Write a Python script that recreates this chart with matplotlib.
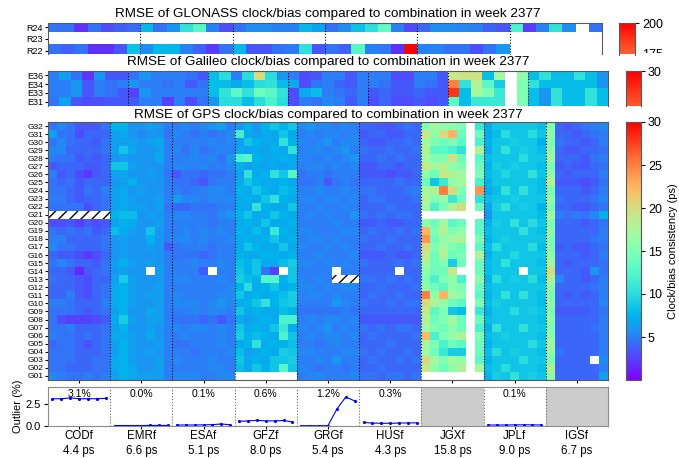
import numpy as np
import matplotlib
matplotlib.use('Agg')
import matplotlib.pyplot as plt
from matplotlib.patches import Rectangle
from matplotlib.colors import Normalize

plt.rcParams['font.family'] = ['Liberation Sans', 'DejaVu Sans']
nan = np.nan

# ---------------- data ----------------
acs = ['CODf', 'EMRf', 'ESAf', 'GFZf', 'GRGf', 'HUSf', 'JGXf', 'JPLf', 'IGSf']
ac_rms = ['4.4 ps', '6.6 ps', '5.1 ps', '8.0 ps', '5.4 ps', '4.3 ps', '15.8 ps', '9.0 ps', '6.7 ps']
outlier_pct = ['3.1%', '0.0%', '0.1%', '0.6%', '1.2%', '0.3%', None, '0.1%', None]

codf_out = [3.1, 3.1, 3.2, 3.1, 3.1, 3.1, 3.15]
emrf_out = [0.02, 0.02, 0.02, 0.02, 0.03, 0.03, 0.03]
esaf_out = [0.08, 0.08, 0.08, 0.1, 0.12, 0.2, 0.1]
gfzf_out = [0.5, 0.55, 0.62, 0.55, 0.55, 0.6, 0.42]
grgf_out = [0.0, 0.0, 0.0, 0.0, 1.92, 3.3, 2.85]
husf_out = [0.38, 0.3, 0.28, 0.28, 0.3, 0.32, 0.33]
jgxf_out = None
jplf_out = [0.08, 0.08, 0.08, 0.1, 0.1, 0.1, 0.08]
igsf_out = None

glo_sats = ['R24', 'R23', 'R22']
glo_acs_n = 6
glo_R24 = [30, 30, 13, 30, 20, 25, 28,
           52, 30, 40, 70, 85, 35, 20,
           30, 38, 38, 35, 35, 52, 45,
           30, 38, 55, 68, 88, 35, 18,
           28, 38, 38, 36, 35, 25, 22,
           80, 15, 35, 70, 38, nan, 30]
glo_R23 = [nan] * 42
glo_R22 = [30, 25, 30, 13, 13, 22, 55,
           38, 52, 52, 35, 25, 15, 30,
           52, 22, 22, 30, 32, 68, 22,
           30, 25, 85, 35, 32, 13, 200,
           35, 35, 30, 30, 20, 30, 40,
           nan, nan, nan, nan, nan, nan, nan]

gal_sats = ['E36', 'E34', 'E33', 'E31']
gal_acs_n = 7
gal_E36 = [5, 6.5, 4.5, 2, 6, 3.5, 3.5,
           4.5, 6, 5, 5, 5, 4.5, 3.5,
           8, 10, 5, 10, 20, 10, 6,
           5, 3, 3.5, 5, 5, 3.5, 5,
           5, 5, 3, 3, 5, 5, 3.5,
           19, 19.5, 19.5, 8, 17, nan, 16,
           8, 10.5, 8, 8, 10.5, 8, 6]
gal_E34 = [5, 5, 6, 3.5, 5, 4.5, 5,
           6, 5, 5, 4.5, 5, 3.5, 4.5,
           8, 8, 7, 8, 10, 10.5, 8,
           7, 3, 4.5, 5, 4, 3.5, 5,
           5, 4.5, 3.5, 3.5, 5, 4.5, 3.5,
           25, 10.5, 18, 13, 9, nan, 15,
           10.5, 8, 8, 8, 8, 8, 6]
gal_E33 = [5, 5, 6, 3.5, 5, 4.5, 3.5,
           2.5, 6, 5, 5, 5, 5, 5,
           8, 10.5, 13, 10.5, 14, 13, 10.5,
           3, 7, 8, 5, 4.5, 4, 5,
           3.5, 4, 3.5, 3.5, 4, 3.5, 3.5,
           28, 8, 17, 15, 11, nan, 15,
           8, 6, 10.5, 8, 8, 10.5, 8]
gal_E31 = [4.5, 6.5, 3.5, 3, 3, 3.5, 3.5,
           3.5, 5, 5, 2.5, 5, 3, 4.5,
           6, 10, 10, 8, 10, 12, 10,
           3, 5, 4.5, 5.5, 5, 3.5, 5,
           3, 4, 3, 3, 3.5, 3, 3.5,
           13, 8, 11, 11, 11, nan, 15,
           8, 6, 10.5, 8, 8, 10.5, 8]

gps_sats = ['G%02d' % i for i in range(32, 0, -1)]   # top to bottom

codf = [[4.5, 5.5, 4.5, 3.5, 3.5, 3.5, 4.5], [6.5, 4.5, 4.5, 3, 4, 4, 4], [4.5, 5.5, 4.5, 4, 4, 3.5, 4.5],
        [5.5, 5.5, 4, 4, 4, 4, 4.5], [5, 4.5, 4.5, 3.5, 4, 3.5, 4], [3.5, 4, 4, 4, 3.5, 3.5, 4],
        [5, 3.5, 4, 3, 2, 3.5, 4], [4.5, 4, 4.5, 3.5, 4, 4, 4], [4.5, 4.5, 4, 3.5, 4.5, 4, 5],
        [5, 5, 4, 3.5, 4, 4, 4.5], [4.5, 4.5, 4.5, 4.5, 3, 4, 4.5], [nan] * 7,
        [3, 3, 3.5, 2.5, 3.5, 3, 3.5], [4.5, 4, 4.5, 4, 4.5, 3.5, 4], [5, 5, 4, 4, 4, 4, 4.5],
        [5.5, 4.5, 4.5, 4, 4, 4, 4.5], [4, 3.5, 3.5, 3, 2, 3, 4], [4.5, 5.5, 4.5, 4, 4, 3.5, 4.5],
        [4, 4, 3.5, 1.5, 3.5, 4, 4.5], [4.5, 4, 4, 3.5, 3, 4, 4], [4, 4, 4, 3.5, 3, 4, 4.5],
        [4, 4, 5, 3.5, 3, 4, 4.5], [5, 5, 4.5, 4, 4, 4, 5], [4.5, 4.5, 4.5, 4, 3.5, 4, 4.5],
        [4.5, 3, 2.5, 2.5, 2.5, 3, 3.5], [4.5, 4.5, 5, 4, 4, 4, 4.5], [5, 4.5, 4.5, 4, 4.5, 4, 4.5],
        [4, 4.5, 4.5, 4, 3, 4, 4.5], [4.5, 4.5, 4.5, 4, 4, 4, 4.5], [4.5, 4.5, 4.5, 4, 4, 4.5, 4.5],
        [4.5, 4.5, 4, 4, 4, 4.5, 4.5], [5.5, 5, 4.5, 4.5, 5, 4.5, 5]]

emrf = [[7.5, 7.5, 6, 6, 6.5, 6, 5], [6.5, 7, 6, 5.5, 6, 6, 4.5], [6.5, 6.5, 6.5, 6, 6.5, 7, 5],
        [6.5, 8.5, 7, 6, 6, 6.5, 5], [6, 6.5, 6, 6, 6, 7, 5], [8.5, 8.5, 6.5, 6, 6, 6, 5],
        [6.5, 7, 6, 6, 6.5, 6, 4.5], [6, 6.5, 7.5, 6, 6, 6, 5], [6.5, 7, 6, 6.5, 6, 6, 5],
        [6.5, 7, 6.5, 6, 6, 6.5, 5], [6.5, 7, 6.5, 6.5, 6, 6.5, 4.5], [7.5, 8, 8, 6, 6.5, 6, 5],
        [6.5, 7.5, 7, 6, 6, 6.5, 5], [8, 7, 6.5, 6, 8.5, 6, 5], [6, 6.5, 6, 6, 7.5, 6, 5],
        [6, 6.5, 6, 6, 6.5, 6, 3.5], [6, 6.5, 6, 6, 6, 6, 5], [6.5, 7.5, 6.5, 6, 6.5, 6, 5],
        [6, 6.5, 6, 6, nan, 6.5, 5], [6.5, 9, 6.5, 6, 6, 6, 5], [7, 7.5, 6.5, 6, 6, 6.5, 5],
        [7, 7.5, 6.5, 6, 6.5, 6.5, 5], [7, 7.5, 6.5, 6, 6, 6.5, 5], [6.5, 7.5, 6, 6, 7, 6.5, 5],
        [7, 9, 6.5, 6, 6.5, 6.5, 5], [6.5, 7.5, 6, 6, 6.5, 6, 5], [7, 7, 6.5, 6, 7, 6, 5],
        [6.5, 7.5, 6.5, 6, 6, 6.5, 5], [6.5, 7.5, 6.5, 6, 6.5, 6, 5], [7, 7.5, 6.5, 6, 6, 6.5, 5],
        [7, 7.5, 7, 6, 6, 6.5, 5], [6.5, 7.5, 7, 6.5, 6.5, 6.5, 5]]

esaf = [[5, 5.5, 5, 5.5, 6, 6.5, 5], [5.5, 5, 4.5, 5, 4.5, 5, 5.5], [5, 5, 5, 5, 5.5, 5, 5.5],
        [5.5, 4.5, 5.5, 4.5, 5, 5.5, 5], [5, 5, 5.5, 5, 5.5, 4.5, 6], [5.5, 5.5, 5, 5.5, 5, 5, 5.5],
        [3.5, 4.5, 4.5, 4, 4.5, 4.5, 5], [4.5, 4.5, 4, 3.5, 4.5, 5, 5], [5, 4.5, 5, 5, 5.5, 5.5, 5],
        [6.5, 5.5, 5.5, 5, 5.5, 5.5, 5.5], [4, 4, 4.5, 4.5, 4.5, 5, 5], [5.5, 5.5, 5, 5, 4.5, 5.5, 6],
        [5, 5, 5, 5, 4.5, 5, 5], [5, 5.5, 5, 5.5, 5, 5.5, 5], [5.5, 5.5, 5, 5.5, 5, 5, 5.5],
        [4.5, 5, 5, 5, 4.5, 5, 5], [4.5, 4.5, 4.5, 4, 4.5, 5, 5], [5, 5, 5.5, 5, 5, 5.5, 5],
        [5, 5, 5, 3.5, nan, 5, 5], [5.5, 5.5, 5, 5, 5, 5.5, 5], [5, 5, 5, 5, 5, 5, 5.5],
        [5.5, 5, 5, 5, 5, 5.5, 5.5], [5.5, 5.5, 5.5, 5, 5.5, 6, 5.5], [5, 5, 5.5, 5, 5.5, 5.5, 5],
        [4.5, 4.5, 4.5, 4, 4.5, 3.5, 4.5], [5.5, 5, 5.5, 5.5, 5, 5.5, 5], [5, 5.5, 5, 5, 5, 5.5, 5],
        [4.5, 4.5, 5, 5, 5, 5.5, 5], [5, 5, 4.5, 5, 5, 5, 5.5], [5.5, 5, 5, 5, 5.5, 5, 5],
        [5, 5, 5, 5, 5.5, 5.5, 5], [5.5, 5.5, 5.5, 5, 5, 5.5, 5.5]]

gfzf = [[6, 7.5, 6, 7.5, 8.5, 7.5, 8.5], [11.5, 7, 6.5, 7, 7, 8.5, 7], [6.5, 8.5, 7.5, 7, 7, 10.5, 7.5],
        [7, 6.5, 7, 6.5, 7.5, 7, 10.5], [12, 12.5, 7.5, 7, 7, 7.5, 7], [7.5, 6.5, 7, 6.5, 7, 6.5, 7],
        [6.5, 10.5, 7, 7.5, 10.5, 8.5, 12.5], [7, 8.5, 7.5, 7, 7, 7.5, 7], [7.5, 7, 8.5, 7.5, 7, 8, 7.5],
        [7, 7.5, 7, 8.5, 10.5, 7.5, 7], [7, 7, 10.5, 7.5, 7, 7, 8.5], [7.5, 8.5, 7, 7, 8.5, 7.5, 7],
        [7, 7.5, 7, 8.5, 7, 7, 7.5], [7.5, 7, 8, 7, 11, 7.5, 7], [7, 7.5, 7, 7.5, 8.5, 7, 7.5],
        [7, 8.5, 7.5, 7, 7, 8.5, 7], [7.5, 7, 7, 7.5, 7.5, 7, 7.5], [8, 7.5, 8.5, 7, 7, 8, 9],
        [8.5, 7.5, 8.5, 4.5, 2.5, nan, 8.5], [9, 8, 7.5, 12.5, 12.5, 7.5, 8.5], [7.5, 10, 7, 7.5, 8.5, 7, 7.5],
        [8.5, 7, 7.5, 7, 7.5, 8, 9], [7, 7.5, 8.5, 10.5, 7.5, 8.5, 9], [8.5, 7, 7.5, 7, 7, 8, 7.5],
        [7, 6.5, 7, 7.5, 7, 12, 12], [8.5, 7, 7.5, 7, 8.5, 11, 7], [9, 7.5, 8, 7.5, 7, 12, 8.5],
        [7, 7.5, 10.5, 7, 7.5, 7.5, 8], [8, 6.5, 7, 7.5, 7, 9, 8.5], [8.5, 7, 7.5, 7, 8.5, 8.5, 9],
        [8, 7, 8.5, 7.5, 8.5, 12.5, 8.5], [nan] * 7]

grgf = [[5.5, 6, 5.5, 5.5, 5, 5.5, 5], [5, 5.5, 5, 5.5, 5.5, 5, 5.5], [5.5, 5, 5.5, 6, 5, 5.5, 5.5],
        [5, 5.5, 5.5, 5, 5.5, 6, 5], [5.5, 5, 5, 5.5, 5, 5.5, 6], [5, 5.5, 5.5, 5, 5.5, 5, 5.5],
        [4.5, 5, 5, 4.5, 5, 5, 5], [4.5, 4.5, 5, 3.5, 4.5, 5, 4.5], [5, 5, 5.5, 5, 5, 5.5, 5],
        [5.5, 5.5, 5, 5.5, 5.5, 5, 5.5], [5, 5, 5.5, 5, 5, 5.5, 5], [5, 5.5, 5, 5.5, 5, 5, 6],
        [5, 5, 5, 5, 5.5, 5, 5], [5.5, 5.5, 5, 5, 5, 5.5, 5.5], [5, 5.5, 5.5, 5, 5.5, 5, 5],
        [5.5, 5, 5, 5.5, 5, 5.5, 5], [5, 5, 5.5, 5, 5, 5, 5.5], [5.5, 5.5, 5, 5.5, 5, 5.5, 5],
        [5, 5, 5, 5, nan, 5, 5], [5.5, 5, 5.5, 5, nan, nan, nan], [5.5, 5.5, 5, 5.5, 5, 5.5, 5.5],
        [5, 5.5, 5.5, 5, 5.5, 5, 5], [5, 5, 5, 5, 6, 5.5, 5], [4.5, 4.5, 4.5, 4.5, 4.5, 5, 4.5],
        [5, 5.5, 5, 5.5, 5.5, 5, 5.5], [5.5, 5, 5.5, 6, 5, 5.5, 5], [5, 5.5, 5, 5.5, 5.5, 5, 5.5],
        [5, 5, 4.5, 5, 5.5, 5, 5], [5.5, 5.5, 5, 5, 5, 5.5, 5.5], [5, 5, 5.5, 5, 6, 5, 5],
        [5.5, 5, 4.5, 5, 5, 4.5, 5], [5, 5.5, 5.5, 5, 5, 5, 5.5]]

husf = [[4, 4, 3.5, 3.5, 4, 4.5, 4], [3.5, 4, 4, 3.5, 3.5, 4, 4], [4, 3.5, 3.5, 4, 4, 4.5, 4],
        [4.5, 4, 4, 4.5, 4, 4, 4.5], [4, 4, 4.5, 4, 4.5, 4, 4], [3.5, 3.5, 4, 4, 3.5, 4, 4],
        [3.5, 3.5, 3.5, 3, 3.5, 3.5, 4], [4, 4, 4, 4, 4.5, 4, 4], [4.5, 4.5, 4, 4, 4, 4.5, 5],
        [4, 4.5, 4.5, 4, 4, 4, 4.5], [4, 4, 4, 4.5, 4, 4, 4], [4.5, 4, 4.5, 4, 4.5, 4.5, 4],
        [3.5, 3.5, 4, 3.5, 3.5, 4, 4], [4, 4.5, 4, 4, 4.5, 4, 4.5], [4.5, 4, 4, 4.5, 4, 4, 4],
        [4, 4, 4.5, 4, 4, 4.5, 4], [3.5, 3.5, 3.5, 4, 3.5, 3.5, 4], [4.5, 4, 4, 4, 4.5, 4, 4.5],
        [4, 4, 4, 4, nan, 4, 4], [4.5, 4.5, 4, 4.5, 4, 4.5, 4], [4, 4, 4.5, 4, 4, 4, 4.5],
        [4, 4.5, 4, 4, 4.5, 4, 4], [4.5, 4, 4, 4.5, 4, 4.5, 4.5], [4, 4, 4, 4, 4, 4, 4],
        [3.5, 3.5, 3.5, 3.5, 3.5, 3.5, 3.5], [4.5, 4, 4.5, 4, 4.5, 4.5, 4], [4, 4.5, 4, 4, 4, 4, 4.5],
        [4, 4, 4, 4.5, 4, 4, 4], [4.5, 4, 4.5, 4, 4, 4.5, 4], [4, 4.5, 4, 4, 4.5, 4, 4.5],
        [4, 4, 4.5, 4, 4, 4, 4], [4.5, 4.5, 4, 4.5, 4.5, 4, 4.5]]

jgxf = [[15, 17, 16, 16, 15, nan, 11], [19, 16, 20, 22.5, 14, nan, 14], [17, 15, 14, 15, 13, nan, 12],
        [18, 13, 13, 12, 10.5, nan, 18], [17, 15, 15, 19.5, 14, nan, 13], [19, 17, 18, 16, 15, nan, 14],
        [16, 14, 19, 18, 17, nan, 15], [14, 8.5, 11, 16, 17, nan, 12], [17, 18, 25, 20, 15, nan, 24],
        [18, 15, 16, 11, 14, nan, 10.5], [17, 12, 15, 18, 20, nan, 14], [nan] * 7,
        [16, 14, 17, 13, 14, nan, 13], [22.5, 15, 18, 15, 16, nan, 13], [24, 14, 16, 17, 18, nan, 15],
        [20, 15, 17, 15, 14, nan, 13], [19, 14, 18, 14, 15, nan, 18], [17, 14, 15, 9, 14, nan, 14],
        [16, 14, 14, 19, nan, nan, 14], [15, 12, 15, 16, 12, nan, 16], [16, 14, 13, 16, 15, nan, 14],
        [25, 16, 22.5, 17, 16, nan, 13], [20, 18, 16, 14, 13, nan, 15], [19, 13, 15, 8.5, 8, nan, 11],
        [18, 14, 15, 17, 14, nan, 14], [17, 15, 14, 16, 14, nan, 12], [22, 12, 15, 16, 18, nan, 15],
        [17, 15, 12, 14, 13, nan, 14], [17, 14, 11, 9, 9, nan, 14], [20, 17, 15, 17, 16, nan, 13],
        [19, 16, 14, 16, 18, nan, 17], [nan] * 7]

jplf = [[7, 8.5, 8.5, 8.5, 8.5, 8.5, 8], [7, 8, 10, 8.5, 8.5, 10, 8.5], [7.5, 8.5, 8.5, 9, 8.5, 8.5, 7.5],
        [7, 8.5, 10.5, 8.5, 9, 8.5, 8], [8, 8.5, 8.5, 8.5, 10, 8.5, 8.5], [7.5, 9, 8.5, 9, 8.5, 8.5, 8],
        [8, 8.5, 9.5, 8.5, 8.5, 10.5, 8.5], [7.5, 8.5, 8.5, 8.5, 8.5, 8.5, 8], [7, 8, 10.5, 8.5, 10.5, 8.5, 8],
        [8, 8.5, 8.5, 9, 8.5, 8.5, 8.5], [7, 9, 10.5, 8.5, 9, 8.5, 7.5], [6, 8.5, 8.5, 8.5, 8.5, 8.5, 8],
        [7.5, 9, 8.5, 10.5, 8.5, 10, 8.5], [8, 8.5, 8.5, 8.5, 10.5, 8.5, 8], [7.5, 8.5, 9, 8.5, 8.5, 8.5, 8.5],
        [8, 10, 8.5, 8.5, 8.5, 10, 8], [7.5, 8.5, 8.5, 9.5, 8.5, 8.5, 8.5], [8, 8.5, 10.5, 8.5, 8.5, 8.5, 8],
        [8, 8.5, 8.5, 8.5, nan, 8.5, 8.5], [7.5, 10, 8.5, 9, 8.5, 10, 8], [8, 8.5, 8.5, 8.5, 8.5, 8.5, 8.5],
        [7.5, 8.5, 10.5, 8.5, 10.5, 8.5, 8], [8, 9, 8.5, 8.5, 8.5, 8.5, 8], [7.5, 8.5, 8.5, 10, 8.5, 9, 8.5],
        [8, 8.5, 8.5, 8.5, 8.5, 8.5, 8], [7.5, 10.5, 8.5, 8.5, 10.5, 8.5, 8.5], [8, 8.5, 9, 8.5, 8.5, 8.5, 8],
        [7.5, 8.5, 8.5, 8.5, 8.5, 10, 8.5], [8, 10, 8.5, 9, 8.5, 8.5, 8], [7.5, 8.5, 8.5, 8.5, 10, 8.5, 8.5],
        [8, 8.5, 10, 8.5, 8.5, 8.5, 8], [7.5, 9, 8.5, 10.5, 8.5, 9, 8.5]]

igsf = [[15, 4, 3.5, 4, 4.5, 5, 5.5], [16, 4, 4, 3.5, 4, 4.5, 5], [15, 4.5, 4, 4, 3.5, 4, 5],
        [16, 4, 3.5, 3.5, 4, 4, 4.5], [17, 4, 4, 4, 3.5, 4.5, 5], [15, 3.5, 4, 3.5, 3.5, 4, 4.5],
        [16, 4, 3.5, 4, 4, 4, 5], [18, 3.5, 3.5, 3.5, 3, 3.5, 4.5], [15, 4, 4, 4, 3.5, 4, 5],
        [16, 4.5, 4, 4, 4, 4.5, 5.5], [15, 4, 4, 3.5, 3.5, 4, 4.5], [17, 5, 4.5, 5, 4.5, 5.5, 7.5],
        [15, 4, 4, 4, 3.5, 4, 4.5], [16, 4, 4, 4, 4, 4, 5], [15, 4, 4, 4, 4, 4.5, 5],
        [15, 3.5, 4, 3.5, 3.5, 4, 4.5], [16, 4, 4, 4, 3.5, 4, 5], [17, 4, 3.5, 4, 4, 4, 4.5],
        [20, 4, 4, 4, 3.5, 6, 4.5], [18, 5.5, 4, 4, 3.5, 4, 5], [16, 4, 4, 4, 4, 4.5, 5],
        [15, 4, 3.5, 4, 3.5, 4, 5], [16, 4, 4, 4, 4, 4, 5.5], [15, 3.5, 3.5, 3.5, 3.5, 4, 4.5],
        [16, 4, 4, 4, 4, 4, 5], [15, 4, 4, 4, 4, 4.5, 5], [16, 4, 4, 4, 4, 4, 5],
        [17, 4, 4, 4, 4, 4, 5], [16, 4.5, 4, 4, 4, 4, 5], [15, 4, 4, 4, 4, nan, 5.5],
        [18, 4, 4, 4, 4, 4, 5], [16, 4, 4, 4, 4, 4, 6.5]]

# hatched (excluded) cells: (ac, satellite, first day index, number of days)
gps_hatched = [('CODf', 'G21', 0, 7), ('GRGf', 'G13', 4, 3)]

# ---------------- figure ----------------
W, H = 679, 458
fig = plt.figure(figsize=(W / 100, H / 100), dpi=100)


def rect(x0, y0, x1, y1):
    return [x0 / W, 1 - y1 / H, (x1 - x0) / W, (y1 - y0) / H]


cmap = plt.get_cmap('rainbow').copy()
cmap.set_bad('white')
norm_gps = Normalize(0, 30)
norm_glo = Normalize(0, 200)
div_kw = dict(color='black', linestyle=':', linewidth=0.8)
spine_col = '0.35'

title_fmt = 'RMSE of {} clock/bias compared to combination in week 2377'
for name, yy in [('GLONASS', 14), ('Galileo', 62), ('GPS', 115)]:
    fig.text(328 / W, 1 - yy / H, title_fmt.format(name), ha='center', va='center', fontsize=9.7)

# GLONASS
ax_glo = fig.add_axes(rect(48, 23, 602, 54.5))
glo = np.array([glo_R24, glo_R23, glo_R22], dtype=float)
ax_glo.imshow(glo, aspect='auto', cmap=cmap, norm=norm_glo, interpolation='nearest')
for k in range(1, glo_acs_n):
    ax_glo.axvline(k * 7 - 0.5, **div_kw)
ax_glo.set_ylim(2.34, -0.38)
ax_glo.set_yticks(range(len(glo_sats)))
ax_glo.set_yticklabels(glo_sats, fontsize=6.5)
ax_glo.set_xticks([])
ax_glo.tick_params(axis='y', length=2, pad=1.5)
ax_glo.spines['bottom'].set_visible(False)
for s in ax_glo.spines.values():
    s.set_color(spine_col); s.set_linewidth(0.8)

# Galileo
ax_gal = fig.add_axes(rect(48, 71, 608, 106))
gal = np.array([gal_E36, gal_E34, gal_E33, gal_E31], dtype=float)
ax_gal.imshow(gal, aspect='auto', cmap=cmap, norm=norm_gps, interpolation='nearest')
for k in range(1, gal_acs_n):
    ax_gal.axvline(k * 7 - 0.5, **div_kw)
ax_gal.set_yticks(range(len(gal_sats)))
ax_gal.set_yticklabels(gal_sats, fontsize=6.5)
ax_gal.set_xticks([])
ax_gal.tick_params(axis='y', length=2, pad=1.5)
ax_gal.spines['bottom'].set_visible(False)
for s in ax_gal.spines.values():
    s.set_color(spine_col); s.set_linewidth(0.8)

# GPS
ax_gps = fig.add_axes(rect(48, 122, 608, 380))
gps = np.hstack([np.array(a, dtype=float) for a in [codf, emrf, esaf, gfzf, grgf, husf, jgxf, jplf, igsf]])
im = ax_gps.imshow(gps, aspect='auto', cmap=cmap, norm=norm_gps, interpolation='nearest')
for k in range(1, len(acs)):
    ax_gps.axvline(k * 7 - 0.5, **div_kw)
for ac, sat, d0, nd in gps_hatched:
    ax_gps.add_patch(Rectangle((acs.index(ac) * 7 + d0 - 0.5, gps_sats.index(sat) - 0.5), nd, 1,
                               facecolor='white', edgecolor='black', linewidth=0, hatch='///'))
ax_gps.set_yticks(range(len(gps_sats)))
ax_gps.set_yticklabels(gps_sats, fontsize=6)
centers = [k * 7 + 3 for k in range(len(acs))]
ax_gps.set_xticks(centers)
ax_gps.set_xticklabels([])
ax_gps.tick_params(axis='both', length=2, pad=1.5)
for s in ax_gps.spines.values():
    s.set_color(spine_col); s.set_linewidth(0.8)

# outlier panel
ax_out = fig.add_axes(rect(48, 387, 608, 425.7))
out_series = [codf_out, emrf_out, esaf_out, gfzf_out, grgf_out, husf_out, jgxf_out, jplf_out, igsf_out]
for k, (ser, pct) in enumerate(zip(out_series, outlier_pct)):
    if ser is None:
        ax_out.axvspan(k * 7 - 0.5, k * 7 + 6.5, color='#cccccc', linewidth=0)
    else:
        ax_out.plot(np.arange(7) + k * 7, ser, color='blue', linewidth=0.8, marker='.', markersize=2.5)
        ax_out.text(k * 7 + 3, 3.6, pct, ha='center', va='center', fontsize=7.5)
for k in range(1, len(acs)):
    ax_out.axvline(k * 7 - 0.5, color='0.4', linestyle=':', linewidth=0.8)
ax_out.set_xlim(-0.5, len(acs) * 7 - 0.5)
ax_out.set_ylim(0, 4.45)
ax_out.set_yticks([0, 2.5])
ax_out.set_yticklabels(['0.0', '2.5'], fontsize=8)
ax_out.set_ylabel('Outlier (%)', fontsize=8, labelpad=2)
ax_out.set_xticks(centers)
ax_out.set_xticklabels(['%s\n%s' % (a, r) for a, r in zip(acs, ac_rms)], fontsize=8.3, linespacing=1.38)
ax_out.tick_params(axis='x', length=2.5, pad=0.5)
ax_out.tick_params(axis='y', length=3, pad=2)
for s in ax_out.spines.values():
    s.set_color('0.55'); s.set_linewidth(0.8)

# colorbars
cax_gps = fig.add_axes(rect(626, 122, 641, 380))
cb = fig.colorbar(im, cax=cax_gps)
cb.set_ticks([5, 10, 15, 20, 25, 30])
cb.ax.tick_params(labelsize=9, length=3, pad=2)
cb.set_label('Clock/bias consistency (ps)', fontsize=8, labelpad=4)
cb.outline.set_edgecolor(spine_col); cb.outline.set_linewidth(0.8)

cax_gal = fig.add_axes(rect(626, 71, 641, 106))
grad = np.linspace(26.5, 30, 200)[:, None]
cax_gal.imshow(grad, aspect='auto', cmap=cmap, norm=norm_gps, origin='lower', extent=[0, 1, 26.5, 30])
cax_gal.set_xticks([])
cax_gal.yaxis.tick_right()
cax_gal.set_yticks([30])
cax_gal.tick_params(labelsize=9, length=3, pad=2)
cax_gal.spines['bottom'].set_visible(False)
for s in cax_gal.spines.values():
    s.set_color(spine_col); s.set_linewidth(0.8)

cax_glo = fig.add_axes(rect(619, 23, 635, 54.5))
grad = np.linspace(174.5, 200, 200)[:, None]
cax_glo.imshow(grad, aspect='auto', cmap=cmap, norm=norm_glo, origin='lower', extent=[0, 1, 174.5, 200])
cax_glo.set_xticks([])
cax_glo.yaxis.tick_right()
cax_glo.set_yticks([175, 200])
cax_glo.tick_params(labelsize=9, length=3, pad=2)
cax_glo.spines['bottom'].set_visible(False)
for s in cax_glo.spines.values():
    s.set_color(spine_col); s.set_linewidth(0.8)

# the lower part of the GLONASS colour bar labels is hidden by the next panel
fig.patches.append(Rectangle((636 / W, 1 - 66 / H), 43 / W, 12.5 / H, transform=fig.transFigure,
                             facecolor='white', edgecolor='none', zorder=10))

fig.savefig('out.png', dpi=100)
